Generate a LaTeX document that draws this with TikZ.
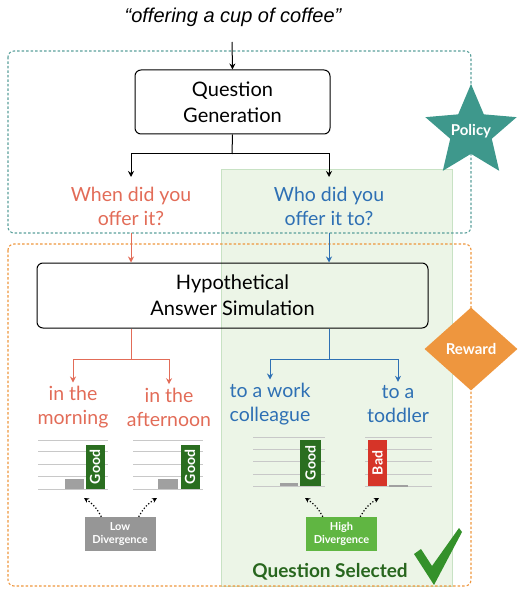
\documentclass[tikz,border=0pt]{standalone}
\usepackage{fontspec}
\setmainfont{Lato}
\newfontfamily\titlefont{Liberation Sans}
\usetikzlibrary{shapes.geometric,arrows.meta,positioning,calc}

\definecolor{polteal}{RGB}{62,152,140}
\definecolor{dashteal}{RGB}{90,160,155}
\definecolor{rewardorange}{RGB}{238,150,62}
\definecolor{salmon}{RGB}{226,108,88}
\definecolor{qblue}{RGB}{46,112,180}
\definecolor{selfill}{RGB}{236,245,231}
\definecolor{seldraw}{RGB}{200,226,196}
\definecolor{goodgreen}{RGB}{42,110,32}
\definecolor{badred}{RGB}{214,52,40}
\definecolor{bargrey}{RGB}{160,160,160}
\definecolor{gridgrey}{RGB}{200,200,200}
\definecolor{lowgrey}{RGB}{150,150,150}
\definecolor{highgreen}{RGB}{96,182,66}
\definecolor{seltext}{RGB}{40,102,30}
\definecolor{checkgreen}{RGB}{52,145,42}

\begin{document}
\begin{tikzpicture}[
			x=1pt, y=-1pt,
			every node/.style = {align=center, font=\fontsize{19.5}{24}\selectfont},
			stepbox/.style = {draw, rounded corners=6pt, line width=1pt, inner sep=0, font=\fontsize{20}{26}\selectfont},
			flow/.style = {line width=1pt, -{Stealth[length=6pt,width=6pt]}},
			barlabel/.style = {rotate=90, text=white, inner sep=0, minimum height=19, font=\bfseries\fontsize{14}{14}\selectfont},
			divbox/.style = {text=white, inner sep=0, minimum width=71, minimum height=34, font=\bfseries\fontsize{11}{13}\selectfont},
			divarrow/.style = {dotted, line width=1.2pt, -{Stealth[length=5pt,width=5pt]}}
			]
			\useasboundingbox (0,0) rectangle (520,593);

			% selected question background
			\draw[seldraw, fill=selfill, line width=1pt] (221,170) rectangle (452,586);

			% policy and reward regions
			\draw[dashteal, line width=1.1pt, dash pattern=on 2.5pt off 2pt, rounded corners=6pt] (8,51) rectangle (471,233);
			\draw[rewardorange, line width=1.1pt, dash pattern=on 2.5pt off 2pt, rounded corners=6pt] (8,244) rectangle (471,586);

			\node[font=\titlefont\itshape\fontsize{20}{22}\selectfont] (topic) at (233,17) {“offering a cup of coffee”};

			\node[stepbox, minimum width=195, minimum height=64] (qgen) at (232.5,102) {Question\\Generation};
			\draw[flow] (232,42) coordinate (topicend) -- (qgen.north);

			\node[text=salmon] (when) at (131,206) {When did you\\offer it?};
			\node[text=qblue] (who) at (329,206) {Who did you\\offer it to?};

			\coordinate (qsplit) at (232,154);
			\draw[line width=1pt] (qgen.south) -- (qsplit);
			\draw[flow] (qsplit) -| (131,177) coordinate (whentop);
			\draw[flow] (qsplit) -| (329,177) coordinate (whotop);

			\node[stepbox, minimum width=391, minimum height=65] (hypo) at (232.5,295.5) {Hypothetical\\Answer Simulation};
			\draw[flow, salmon] (131,233) coordinate (whenout) -- (whenout |- hypo.north);
			\draw[flow, qblue] (329,233) coordinate (whoout) -- (whoout |- hypo.north);

			\node[star, star points=5, star point ratio=2.2, minimum size=96, inner sep=0, fill=polteal] (policy) at (471,132) {};
			\node[text=white, font=\bfseries\fontsize{15}{16}\selectfont] (policytext) at (471,131) {Policy};
			\node[diamond, minimum width=93, minimum height=83, inner sep=0, fill=rewardorange, text=white, font=\bfseries\fontsize{15}{16}\selectfont] (reward) at (471,349) {Reward};

			% hypothetical answers
			\node[text=salmon] (morning) at (73,407) {in the\\morning};
			\node[text=salmon] (afternoon) at (169,407) {in the\\afternoon};
			\node[text=qblue] (colleague) at (270,404) {to a work\\colleague};
			\node[text=qblue] (toddler) at (398,404) {to a\\toddler};

			\coordinate (hsplitL) at (131,359);
			\coordinate (hsplitR) at (329,359);
			\draw[line width=1pt, salmon] (hypo.south -| hsplitL) -- (hsplitL);
			\draw[flow, salmon] (hsplitL) -| (morning.north);
			\draw[flow, salmon] (hsplitL) -| (afternoon.north);
			\draw[line width=1pt, qblue] (hypo.south -| hsplitR) -- (hsplitR);
			\draw[flow, qblue] (hsplitR) -| (colleague.north);
			\draw[flow, qblue] (hsplitR) -| (toddler.north);

			% answer charts
			\foreach \y in {440,451,464,476,489} {
				\draw[gridgrey, line width=0.8pt] (38,\y) -- (108,\y);
				\draw[gridgrey, line width=0.8pt] (133,\y) -- (203,\y);
			}
			\foreach \y in {437,449,461,474,486} {
				\draw[gridgrey, line width=0.8pt] (253,\y) -- (325,\y);
				\draw[gridgrey, line width=0.8pt] (365,\y) -- (432,\y);
			}
			\fill[bargrey] (65,479) rectangle (84,489);
			\fill[bargrey] (158,479) rectangle (178,489);
			\fill[bargrey] (280,483) rectangle (298,486);
			\fill[bargrey] (389,485) rectangle (408,486.5);

			\node[barlabel, fill=goodgreen, minimum width=44] (good1) at (95,467) {Good};
			\node[barlabel, fill=goodgreen, minimum width=44] (good2) at (190,467) {Good};
			\node[barlabel, fill=goodgreen, minimum width=46, minimum height=21] (good3) at (310.5,463) {Good};
			\node[barlabel, fill=badred, minimum width=46] (bad4) at (377.5,463) {Bad};

			% divergence
			\node[divbox, fill=lowgrey] (lowdiv) at (120,534) {Low\\Divergence};
			\node[divbox, fill=highgreen] (highdiv) at (341.5,534) {High\\Divergence};

			\coordinate (lowtipL) at (84,498);
			\coordinate (lowtipR) at (157,498);
			\coordinate (hightipL) at (305,498);
			\coordinate (hightipR) at (379,498);
			\draw[divarrow] ([xshift=17pt]lowdiv.north west) to[bend right=15] (lowtipL);
			\draw[divarrow] ([xshift=-17pt]lowdiv.north east) to[bend left=15] (lowtipR);
			\draw[divarrow] ([xshift=17pt]highdiv.north west) to[bend right=15] (hightipL);
			\draw[divarrow] ([xshift=-17pt]highdiv.north east) to[bend left=15] (hightipR);

			\node[text=seltext, font=\bfseries\fontsize{19}{20}\selectfont] (selected) at (330,572) {Question Selected};
			\fill[checkgreen] (414,554) -- (421,549) -- (432,566) -- (459,528) -- (462,532) -- (434,585) -- cycle;

		\end{tikzpicture}
\end{document}
